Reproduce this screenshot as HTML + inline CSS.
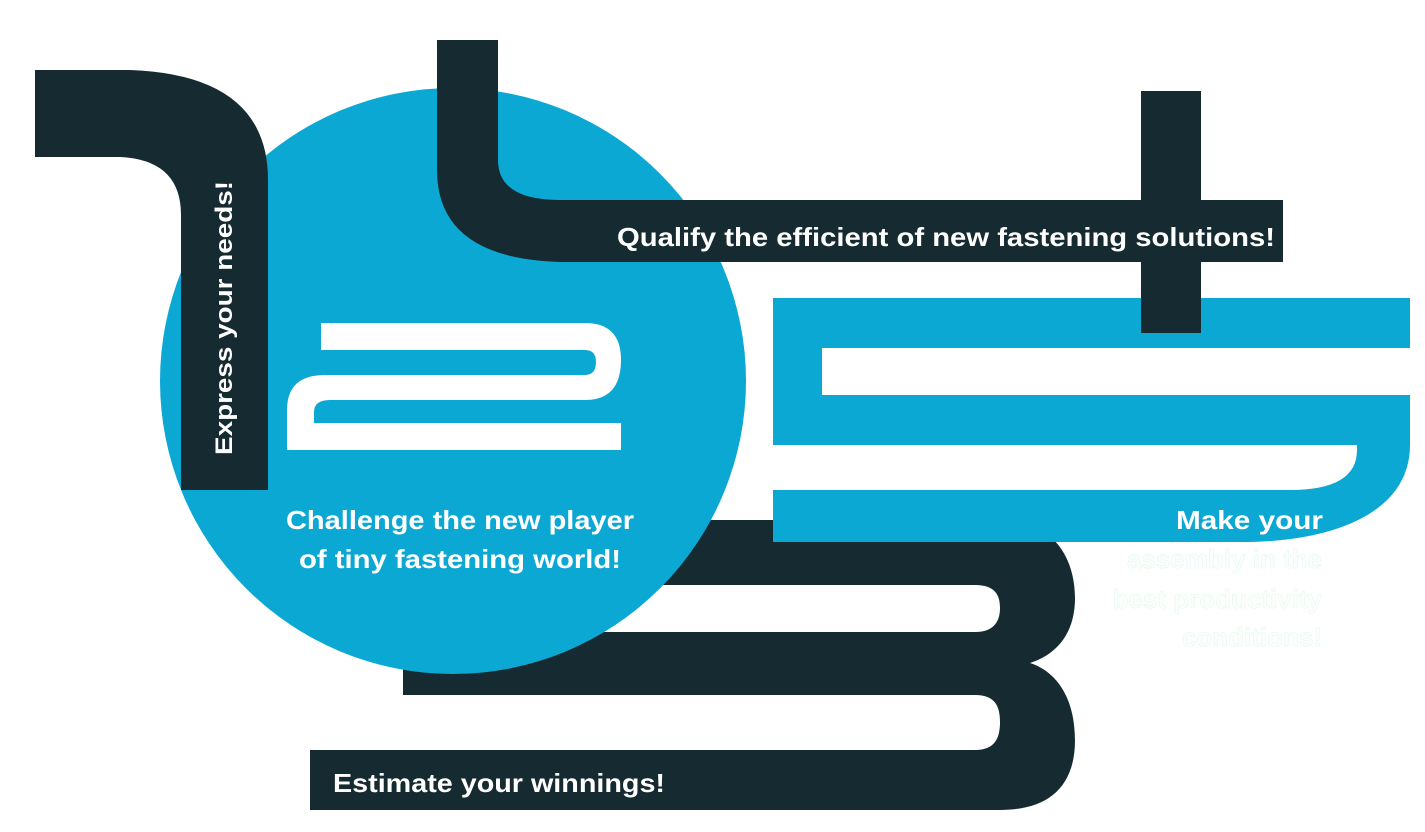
<!DOCTYPE html>
<html><head><meta charset="utf-8"><style>
html,body{margin:0;padding:0;background:#fff;}
svg{display:block}
text{font-family:"Liberation Sans",sans-serif;font-weight:bold;}
</style></head><body>
<svg width="1425" height="832" viewBox="0 0 1425 832" xmlns="http://www.w3.org/2000/svg">
<path fill="#152a31" d="M640,520 L1000,520 C1055,520 1075,560 1075,598 C1075,635 1055,655 1030,663 C1058,672 1075,700 1075,740 C1075,790 1045,810 1000,810 L310,810 L310,750 L975,750 C995,750 1000,738 1000,722 C1000,706 995,695 975,695 L403,695 L403,632 L975,632 C995,632 1000,620 1000,608 C1000,595 995,585 975,585 L640,585 Z"/>
<circle cx="453" cy="381" r="293" fill="#0ca8d4"/>
<path fill="#fff" d="M321,323 L585,323 Q621,323 621,360 Q621,400 585,400 L330,400 Q314,400 314,412 L314,423 L621,423 L621,450 L287,450 L287,410 Q287,375 325,375 L585,375 Q596,375 596,362 Q596,350 585,350 L321,350 Z"/>
<path fill="#152a31" d="M35,70 L130,70 Q268,75 268,180 L268,490 L181,490 L181,215 Q181,160 120,157 L35,157 Z"/>
<path fill="#152a31" d="M437,40 L498,40 L498,160 Q498,200 560,200 L1283,200 L1283,262 L570,262 Q437,262 437,170 Z"/>
<rect x="1141" y="91" width="60" height="242" fill="#152a31"/>
<path fill="#0ca8d4" fill-rule="evenodd" d="M773,298 L1410,298 L1410,445 C1410,510 1340,540 1250,542 L773,542 L773,490 L1290,490 Q1357,490 1357,450 L1357,445 L773,445 Z M822,348 L822,395 L1410,395 L1410,348 Z"/>
<rect x="1141" y="298" width="60" height="35" fill="#152a31"/>
<text transform="translate(232,455) rotate(-90)" font-size="24" fill="#fff" textLength="274" lengthAdjust="spacingAndGlyphs">Express your needs!</text>
<text x="617" y="246" font-size="26" fill="#fff" textLength="658" lengthAdjust="spacingAndGlyphs">Qualify the efficient of new fastening solutions!</text>
<text x="286" y="529" font-size="26" fill="#fff" textLength="348" lengthAdjust="spacingAndGlyphs">Challenge the new player</text>
<text x="299" y="568" font-size="26" fill="#fff" textLength="322" lengthAdjust="spacingAndGlyphs">of tiny fastening world!</text>
<text x="1176" y="529" font-size="26" fill="#fff" textLength="147" lengthAdjust="spacingAndGlyphs">Make your</text>
<text x="1322" y="568" font-size="26" fill="#fafffc" stroke="#e3f7ec" stroke-width="0.5" text-anchor="end" font-weight="normal">assembly in the</text>
<text x="1322" y="608" font-size="26" fill="#fafffc" stroke="#e3f7ec" stroke-width="0.5" text-anchor="end" font-weight="normal">best productivity</text>
<text x="1322" y="646" font-size="26" fill="#fafffc" stroke="#e3f7ec" stroke-width="0.5" text-anchor="end" font-weight="normal">conditions!</text>
<text x="333" y="792" font-size="26" fill="#fff" textLength="332" lengthAdjust="spacingAndGlyphs">Estimate your winnings!</text>
</svg>
</body></html>
